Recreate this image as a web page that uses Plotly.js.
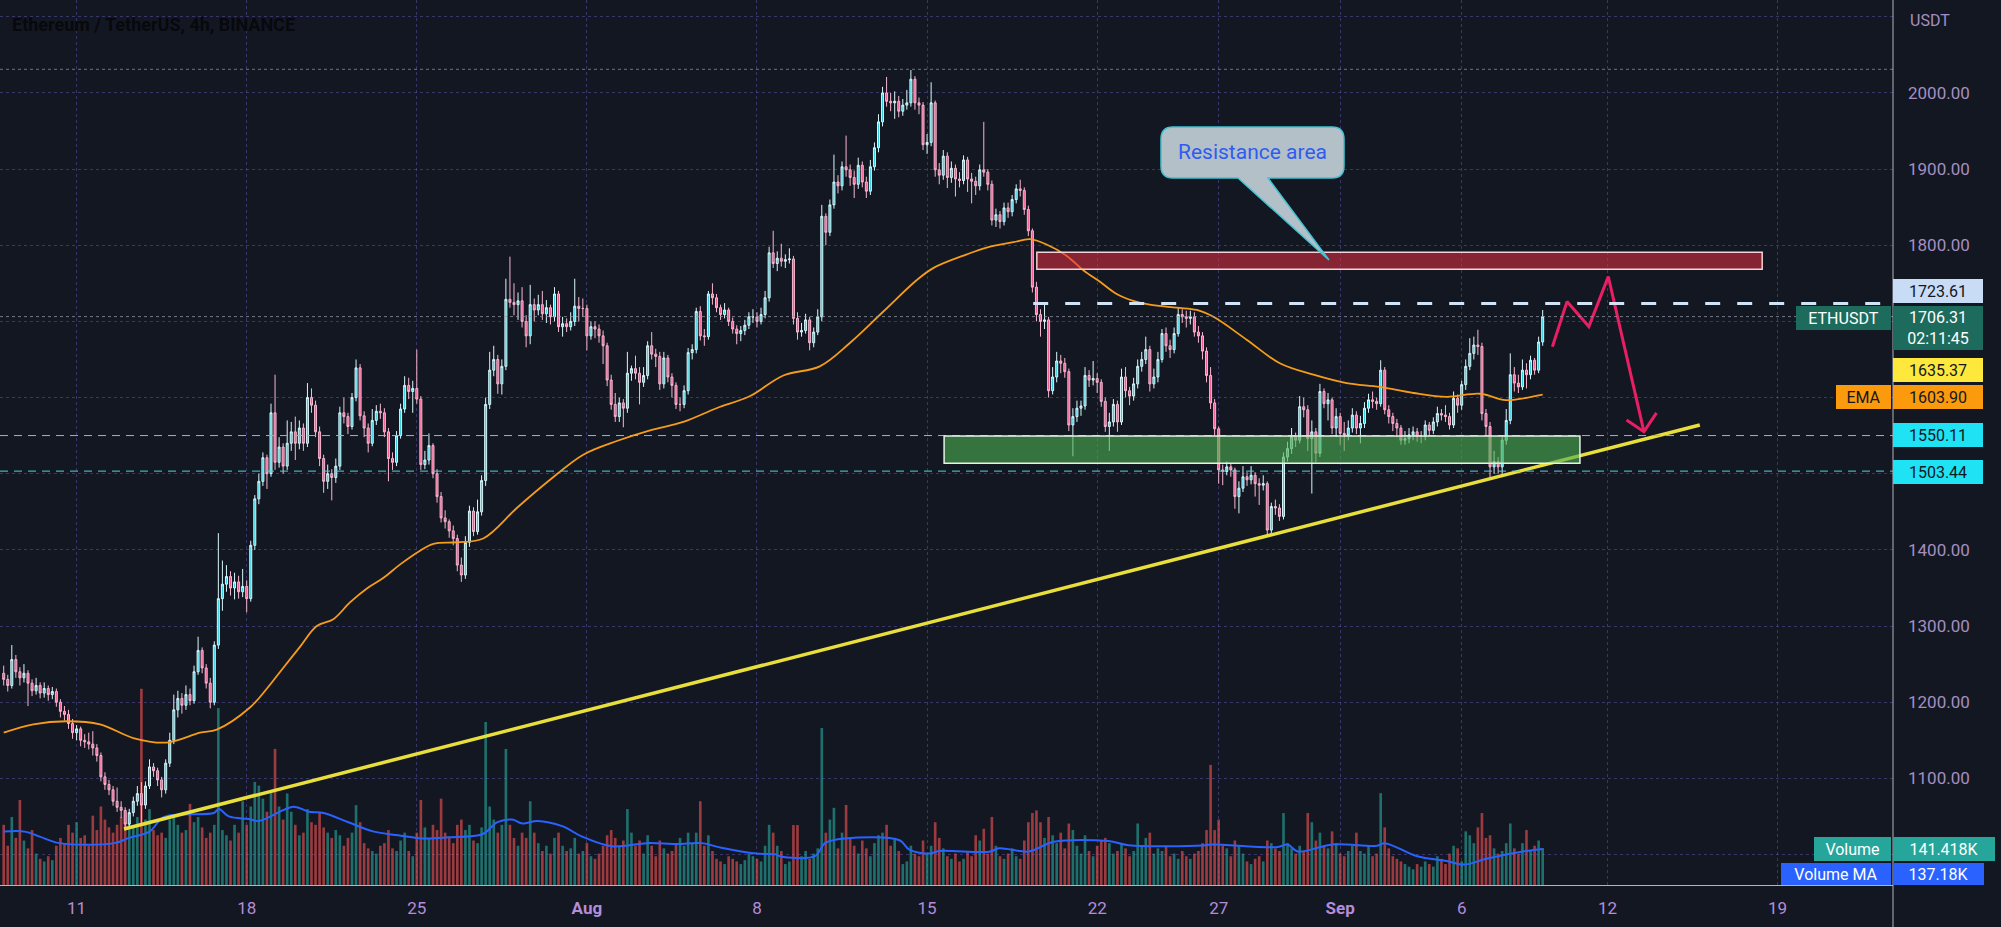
<!DOCTYPE html>
<html><head><meta charset="utf-8">
<script src="https://cdn.plot.ly/plotly-3.0.1.min.js"></script>
<style>html,body{margin:0;padding:0;background:#131722;}#chart{width:2001px;height:927px;}</style>
</head><body><div id="chart"></div>
<script>
// ---- data: ETH/USDT 4h candles, first bar 2022-07-08 00:00 UTC ----
const startUTC = Date.UTC(2022, 6, 8, 0, 0);
const H4 = 4 * 3600 * 1000;

const open = [
1238,1230,1222,1256,1240,1232,1238,1225,1215,1222,1212,1218,1210,1214,1200,1188,1184,1172,1160,1165,
1150,1148,1145,1140,1130,1102,1092,1085,1070,1062,1058,1040,1055,1070,1080,1065,1090,1115,1110,1098,
1085,1120,1150,1190,1205,1196,1210,1202,1240,1268,1245,1225,1200,1275,1336,1355,1365,1350,1358,1345,
1352,1336,1406,1467,1490,1521,1500,1580,1515,1535,1510,1540,1555,1540,1560,1540,1600,1590,1555,1520,
1490,1500,1495,1510,1580,1575,1562,1600,1639,1576,1560,1540,1570,1582,1580,1555,1520,1515,1550,1585,
1616,1608,1612,1598,1512,1518,1537,1500,1470,1442,1437,1425,1415,1380,1367,1410,1451,1424,1450,1491,
1591,1636,1650,1618,1641,1729,1725,1722,1727,1700,1681,1722,1715,1722,1710,1718,1706,1736,1693,1697,
1693,1700,1720,1717,1717,1681,1693,1690,1681,1668,1623,1591,1575,1593,1586,1632,1638,1632,1620,1629,
1668,1657,1654,1618,1652,1627,1616,1591,1591,1609,1659,1663,1713,1681,1680,1736,1731,1718,1709,1715,
1700,1690,1684,1688,1695,1706,1706,1700,1709,1731,1790,1776,1783,1779,1781,1782,1704,1686,1688,1702,
1672,1686,1706,1838,1817,1853,1883,1878,1903,1899,1889,1880,1905,1883,1871,1903,1928,1962,2000,1989,
1987,1989,1976,1984,1987,2018,1987,1984,1932,1935,1987,1899,1892,1917,1889,1901,1887,1885,1912,1887,
1884,1878,1899,1896,1880,1833,1840,1831,1849,1844,1860,1874,1872,1847,1819,1745,1709,1700,1702,1609,
1627,1648,1645,1634,1564,1575,1586,1589,1629,1623,1625,1620,1595,1562,1568,1591,1568,1627,1609,1602,
1618,1641,1650,1663,1618,1627,1650,1684,1668,1663,1684,1709,1706,1704,1706,1686,1681,1661,1629,1593,
1559,1505,1503,1509,1505,1470,1481,1496,1492,1498,1487,1485,1487,1426,1457,1455,1444,1522,1533,1549,
1544,1588,1584,1546,1555,1527,1608,1592,1597,1560,1575,1553,1551,1560,1577,1560,1566,1586,1597,1595,
1592,1636,1584,1575,1566,1560,1544,1546,1551,1555,1549,1549,1564,1557,1568,1579,1577,1575,1564,1599,
1590,1617,1641,1658,1669,1667,1579,1562,1509,1516,1509,1544,1570,1630,1619,1614,1636,1630,1649,1636,1673];

const high = [
1248,1236,1275,1262,1246,1250,1242,1230,1232,1226,1226,1222,1220,1218,1204,1195,1190,1178,1170,1168,
1158,1160,1162,1145,1134,1108,1098,1090,1088,1070,1062,1060,1076,1090,1095,1096,1125,1120,1114,1102,
1125,1160,1210,1215,1212,1222,1218,1248,1286,1272,1250,1232,1280,1422,1386,1380,1372,1370,1366,1375,
1360,1412,1472,1500,1528,1525,1592,1630,1548,1540,1570,1568,1575,1570,1566,1619,1612,1596,1562,1525,
1512,1506,1520,1588,1600,1580,1606,1650,1644,1582,1566,1585,1590,1592,1586,1560,1528,1556,1592,1628,
1626,1622,1663,1602,1530,1553,1540,1506,1476,1452,1440,1432,1420,1390,1418,1458,1456,1466,1498,1600,
1660,1668,1656,1650,1756,1785,1750,1738,1745,1708,1748,1730,1735,1740,1728,1722,1745,1740,1706,1704,
1712,1756,1732,1730,1722,1700,1700,1696,1688,1672,1630,1606,1600,1598,1660,1642,1655,1640,1640,1674,
1686,1664,1660,1660,1656,1632,1620,1600,1616,1665,1670,1718,1720,1690,1740,1750,1736,1722,1724,1718,
1705,1695,1694,1702,1712,1716,1712,1718,1740,1798,1819,1792,1802,1788,1796,1786,1712,1698,1710,1706,
1692,1716,1853,1842,1860,1919,1892,1910,1944,1906,1898,1915,1910,1890,1912,1935,1972,2008,2021,2000,
2002,1996,1992,2004,2030,2022,1994,1988,1946,2014,1990,1908,1925,1922,1910,1906,1896,1918,1916,1895,
1890,1906,1962,1900,1885,1848,1845,1856,1856,1866,1880,1886,1876,1852,1822,1752,1716,1723,1706,1640,
1660,1656,1652,1638,1586,1596,1596,1640,1636,1648,1632,1624,1600,1580,1598,1596,1638,1640,1614,1626,
1650,1660,1680,1668,1638,1660,1690,1692,1676,1692,1718,1716,1714,1714,1712,1694,1686,1666,1640,1598,
1562,1512,1516,1514,1508,1490,1510,1502,1510,1502,1494,1498,1490,1462,1466,1460,1528,1542,1560,1554,
1602,1600,1590,1570,1560,1618,1612,1606,1600,1586,1580,1568,1570,1586,1582,1576,1594,1605,1608,1600,
1649,1640,1590,1580,1572,1564,1556,1560,1562,1560,1556,1570,1568,1574,1588,1585,1590,1580,1608,1604,
1622,1650,1678,1680,1689,1672,1585,1568,1530,1522,1550,1585,1658,1640,1630,1650,1645,1655,1652,1680,1715];

const low = [
1222,1214,1218,1232,1222,1226,1195,1208,1210,1205,1206,1202,1204,1194,1180,1176,1165,1152,1150,1142,
1140,1138,1130,1122,1096,1085,1078,1064,1056,1048,1032,1036,1050,1064,1038,1060,1086,1102,1090,1075,
1080,1115,1145,1180,1185,1190,1196,1198,1236,1238,1218,1192,1196,1270,1320,1345,1340,1335,1336,1338,
1318,1332,1400,1460,1484,1480,1496,1505,1508,1500,1505,1530,1518,1532,1530,1535,1580,1548,1510,1475,
1480,1465,1488,1505,1566,1552,1558,1595,1570,1548,1528,1536,1564,1572,1548,1490,1505,1510,1546,1580,
1598,1580,1592,1505,1506,1512,1494,1462,1436,1428,1416,1406,1372,1358,1362,1404,1418,1420,1445,1484,
1585,1628,1605,1604,1636,1718,1708,1702,1692,1666,1670,1700,1708,1702,1698,1696,1700,1686,1680,1686,
1688,1694,1700,1706,1662,1676,1678,1672,1644,1615,1584,1568,1568,1561,1580,1622,1624,1591,1614,1624,
1650,1640,1610,1612,1620,1600,1585,1582,1586,1604,1650,1658,1675,1668,1676,1722,1712,1702,1704,1694,
1684,1670,1674,1682,1690,1698,1692,1696,1704,1726,1770,1766,1772,1770,1776,1696,1676,1680,1684,1662,
1666,1682,1700,1800,1812,1848,1868,1872,1890,1878,1862,1874,1876,1862,1866,1898,1922,1956,1982,1976,
1966,1968,1970,1978,1982,1978,1972,1925,1920,1930,1890,1880,1886,1875,1882,1864,1876,1880,1870,1855,
1866,1872,1890,1872,1826,1824,1822,1826,1836,1838,1855,1864,1840,1812,1738,1700,1680,1690,1600,1604,
1620,1632,1626,1556,1523,1568,1576,1584,1614,1616,1606,1588,1555,1530,1562,1555,1564,1600,1590,1596,
1612,1634,1644,1608,1612,1620,1646,1660,1652,1658,1680,1698,1692,1696,1680,1672,1650,1620,1585,1550,
1487,1485,1498,1496,1454,1448,1476,1484,1486,1470,1459,1478,1420,1422,1446,1438,1440,1516,1526,1535,
1540,1574,1530,1474,1515,1522,1586,1570,1552,1548,1538,1530,1544,1554,1552,1540,1560,1580,1586,1584,
1588,1578,1566,1556,1548,1538,1538,1540,1544,1542,1540,1544,1550,1552,1562,1570,1568,1558,1560,1580,
1584,1610,1636,1650,1656,1570,1550,1494,1500,1500,1500,1538,1565,1608,1606,1610,1612,1624,1630,1632,1668];

const close = [
1230,1222,1256,1240,1232,1238,1225,1215,1222,1212,1218,1210,1214,1200,1188,1184,1172,1160,1165,1150,
1148,1145,1140,1130,1102,1092,1085,1070,1062,1058,1040,1055,1070,1080,1065,1090,1115,1110,1098,1085,
1120,1150,1190,1205,1196,1210,1202,1240,1268,1245,1225,1200,1275,1336,1355,1365,1350,1358,1345,1352,
1336,1406,1467,1490,1521,1500,1580,1515,1535,1510,1540,1555,1540,1560,1540,1600,1590,1555,1520,1490,
1500,1495,1510,1580,1575,1562,1600,1639,1576,1560,1540,1570,1582,1580,1555,1520,1515,1550,1585,1616,
1608,1612,1598,1512,1518,1537,1500,1470,1442,1437,1425,1415,1380,1367,1410,1451,1424,1450,1491,1591,
1636,1650,1618,1641,1729,1725,1722,1727,1700,1681,1722,1715,1722,1710,1718,1706,1736,1693,1697,1693,
1700,1720,1717,1717,1681,1693,1690,1681,1668,1623,1591,1575,1593,1586,1632,1638,1632,1620,1629,1668,
1657,1654,1618,1652,1627,1616,1591,1591,1609,1659,1663,1713,1681,1680,1736,1731,1718,1709,1715,1700,
1690,1684,1688,1695,1706,1706,1700,1709,1731,1790,1776,1783,1779,1781,1782,1704,1686,1688,1702,1672,
1686,1706,1838,1817,1853,1883,1878,1903,1899,1889,1880,1905,1883,1871,1903,1928,1962,2000,1989,1987,
1989,1976,1984,1987,2018,1987,1984,1932,1935,1987,1899,1892,1917,1889,1901,1887,1885,1912,1887,1884,
1878,1899,1896,1880,1833,1840,1831,1849,1844,1860,1874,1872,1847,1819,1745,1709,1700,1702,1609,1627,
1648,1645,1634,1564,1575,1586,1589,1629,1623,1625,1620,1595,1562,1568,1591,1568,1627,1609,1602,1618,
1641,1650,1663,1618,1627,1650,1684,1668,1663,1684,1709,1706,1704,1706,1686,1681,1661,1629,1593,1559,
1505,1503,1509,1505,1470,1481,1496,1492,1498,1487,1485,1487,1426,1457,1455,1444,1522,1533,1549,1544,
1588,1584,1546,1555,1527,1608,1592,1597,1560,1575,1553,1551,1560,1577,1560,1566,1586,1597,1595,1592,
1636,1584,1575,1566,1560,1544,1546,1551,1555,1549,1549,1564,1557,1568,1579,1577,1575,1564,1599,1590,
1617,1641,1658,1669,1667,1579,1562,1509,1516,1509,1544,1570,1630,1619,1614,1636,1630,1649,1636,1673,1706.31];

// volume in thousands of ETH
const volumeK = [
230,150,260,180,325,170,140,210,120,100,90,110,95,150,180,160,230,200,240,180,
190,150,265,210,300,250,220,200,230,260,280,240,220,260,750,250,290,210,190,200,
180,250,260,230,200,210,310,240,260,220,180,200,230,676,210,190,170,230,200,320,
230,300,394,380,330,280,360,520,300,250,350,280,230,190,200,290,240,230,280,220,
200,180,210,190,150,180,200,305,240,160,140,130,120,150,160,210,140,130,170,200,
130,110,200,325,220,180,230,210,330,200,180,160,230,250,210,230,170,160,220,623,
300,250,200,230,520,230,180,150,200,180,320,200,160,130,150,120,180,200,150,130,
140,180,120,130,160,110,100,120,150,190,210,180,150,170,290,200,150,170,120,190,
150,110,170,140,120,130,160,180,150,200,160,200,320,150,190,130,100,90,80,110,
100,90,80,95,120,110,100,90,150,230,200,150,130,80,90,229,229,110,130,100,
120,140,600,200,250,295,140,200,306,180,150,120,170,140,110,160,190,200,230,150,
180,130,80,90,150,120,110,170,120,150,240,180,140,110,100,120,90,100,130,110,
190,170,215,120,260,150,110,100,120,140,110,100,170,240,275,285,240,180,260,190,
160,200,140,235,210,150,120,190,130,110,150,170,180,160,120,130,160,140,110,130,
235,150,180,200,120,140,130,150,110,120,100,130,110,100,120,130,160,210,459,210,
250,150,140,110,170,150,120,90,80,100,110,90,170,160,140,130,275,160,140,120,
150,130,275,240,170,200,150,140,205,160,120,110,130,150,200,130,120,150,110,120,
351,220,140,110,100,90,80,70,60,80,70,90,80,70,110,100,80,120,150,140,
90,205,190,160,220,275,180,190,140,120,130,160,235,140,120,160,210,130,150,170,141.418];

// EMA, at bar-index positions
const emaIdx = [0,7.3,15.6,23.8,32,40.2,48.5,52.6,60.8,65,69,73.2,77.3,81.4,85.5,89.6,93.7,97.9,102.8,106.1,
111.9,118.4,126.7,134.9,143.1,151.4,159.6,167.8,176,184.3,192.5,201.5,209,217.2,225.4,229.5,237.8,242.7,249.3,253.4,
257.5,262.5,266.6,270.7,274.8,278.9,283,289.6,294.6,298.7,306.9,315.1,323.4,331.6,339.8,348.1,356.3,364.5,370.3,372.7,380];
const emaVal = [1160,1171,1175,1171,1153,1147,1160,1164,1193,1218,1245,1273,1300,1309,1331,1349,1363,1381,1399,1408,
1410,1415,1455,1492,1525,1543,1557,1568,1586,1602,1629,1641,1672,1713,1754,1770,1788,1797,1804,1808,
1801,1786,1767,1752,1736,1727,1722,1718,1715,1706,1676,1645,1630,1619,1614,1606,1601,1605,1597,1597,1603.9];

// Volume MA (thousands)
const vmaIdx = [0,5.2,8.9,13.8,27.3,31,36,39.6,51.9,53.1,55.6,60.5,63,71.6,75.3,79,85.1,91.2,97.4,103.5,
109.7,118.3,121.9,125.6,128.1,131.8,137.9,142.8,150.2,158.8,166.2,172.3,177.2,185.8,190.7,191.7,200.3,202.8,207.7,221.2,
223.6,228.6,231,243.3,245.8,253.1,259.3,272.8,277.7,296.1,298.1,314.6,317,319.5,328.1,339.1,341,349,356.3,360.6,366.1,376,380];
const vmaVal = [204,204,185,160,160,180,204,260,275,290,262,252,245,299,280,275,240,205,190,178,
182,195,240,250,235,245,225,185,148,160,157,160,142,120,117,110,110,160,178,171,
135,120,130,127,140,128,165,168,152,151,155,145,155,128,155,150,160,110,92,78,100,130,137.18];

// axis ticks
const dateTicks = ['2022-07-11','2022-07-18','2022-07-25','2022-08-01','2022-08-08','2022-08-15','2022-08-22','2022-08-27','2022-09-01','2022-09-06','2022-09-12','2022-09-19'];
const dateTickText = ['11','18','25','<b>Aug</b>','8','15','22','27','<b>Sep</b>','6','12','19'];
const priceTicks = [1000,1100,1200,1300,1400,1500,1600,1700,1800,1900,2000,2100];
// price labels shown on the scale (the others are covered by the label boxes)
const priceTickShown = [1100,1200,1300,1400,1800,1900,2000];

// drawings (bar index / price)
const trendIdx = [29.7, 418.8], trendPrice = [1033.5, 1564];
const pathIdx = [382.4, 386, 391.4, 396.2, 405], pathPrice = [1666.8, 1726, 1693.2, 1758.8, 1555.2];
const arrowIdx = [400.7, 405, 408.1], arrowPrice = [1570.6, 1555.2, 1579.8];
const resistIdx = [255.1, 434.2], resistPrice = [1768.5, 1790.8];
const supportIdx = [232.2, 389.2], supportPrice = [1513.7, 1549.6];
const levels = {high: 1723.61, last: 1706.31, alert: 1635.37, ema: 1603.90, sup1: 1550.11, sup2: 1503.44, top: 2031};

// ---- build ----
const T = k => startUTC + k * H4;
const xs = close.map((_, i) => T(i));
const volColors = close.map((c, i) => c >= open[i] ? 'rgba(38,166,154,0.62)' : 'rgba(239,83,80,0.62)');

const PH = 885, PW = 1893;
const py = px => 1 - px / PH;
const pxX = px => px / PW;

const traces = [
  {type:'bar', x: xs, y: volumeK, marker:{color: volColors, line:{width:0}}, xaxis:'x', yaxis:'y', hoverinfo:'skip'},
  {type:'scatter', mode:'lines', x: vmaIdx.map(T), y: vmaVal, line:{color:'#2962ff', width:2, shape:'spline'}, xaxis:'x', yaxis:'y', hoverinfo:'skip'},
  {type:'candlestick', x: xs, open, high, low, close, xaxis:'x', yaxis:'y2',
    increasing:{line:{color:'#d8f6fa', width:1}, fillcolor:'#2ccbdc'},
    decreasing:{line:{color:'#f7b6cf', width:1}, fillcolor:'#ee5a8f'},
    whiskerwidth: 0, hoverinfo:'skip'},
  {type:'scatter', mode:'lines', x: emaIdx.map(T), y: emaVal, line:{color:'#f59c1a', width:1.8, shape:'spline'}, xaxis:'x', yaxis:'y2', hoverinfo:'skip'},
  {type:'scatter', mode:'lines', x: trendIdx.map(T), y: trendPrice, line:{color:'#e9df3c', width:3.5}, xaxis:'x', yaxis:'y2', hoverinfo:'skip'},
  {type:'scatter', mode:'lines', x: pathIdx.map(T), y: pathPrice, line:{color:'#e91e63', width:3}, xaxis:'x', yaxis:'y2', hoverinfo:'skip'},
  {type:'scatter', mode:'lines', x: arrowIdx.map(T), y: arrowPrice, line:{color:'#e91e63', width:3}, xaxis:'x', yaxis:'y2', hoverinfo:'skip'}
];

const gridColor = 'rgba(110,100,200,0.42)';
const shapes = [
  {type:'line', xref:'paper', yref:'y2', x0:0, x1:1, y0:levels.top, y1:levels.top, line:{color:'rgba(190,190,215,0.55)', width:1, dash:'dot'}},
  {type:'line', xref:'paper', yref:'y2', x0:0, x1:1, y0:levels.last, y1:levels.last, line:{color:'rgba(150,152,165,0.75)', width:1, dash:'dot'}},
  {type:'line', xref:'paper', yref:'y2', x0:0, x1:1, y0:levels.sup1, y1:levels.sup1, line:{color:'#4fd3e3', width:1, dash:'8px,6px'}},
  {type:'line', xref:'paper', yref:'y2', x0:0, x1:1, y0:levels.sup2, y1:levels.sup2, line:{color:'#4fd3e3', width:1, dash:'8px,6px'}},
  {type:'line', xref:'x', yref:'y2', x0:T(254.2), x1:T(466.5), y0:levels.high, y1:levels.high, line:{color:'#d3e3f7', width:3, dash:'15px,17px'}},
  {type:'rect', xref:'x', yref:'y2', x0:T(resistIdx[0]), x1:T(resistIdx[1]), y0:resistPrice[0], y1:resistPrice[1],
    fillcolor:'rgba(232,48,66,0.55)', line:{color:'#f4d2d6', width:1.5}, layer:'above'},
  {type:'rect', xref:'x', yref:'y2', x0:T(supportIdx[0]), x1:T(supportIdx[1]), y0:supportPrice[0], y1:supportPrice[1],
    fillcolor:'rgba(76,175,80,0.62)', line:{color:'#e6f2e6', width:1.5}, layer:'above'},
  (function(){
    const x0=1161,x1=1344,y0=127,y1=178,r=12;
    const P=(x,y)=>pxX(x).toFixed(5)+','+py(y).toFixed(5);
    const path = 'M'+P(x0+r,y0)+' L'+P(x1-r,y0)+' Q'+P(x1,y0)+' '+P(x1,y0+r)+' L'+P(x1,y1-r)+' Q'+P(x1,y1)+' '+P(x1-r,y1)+
      ' L'+P(1268,y1)+' L'+P(1329,260)+' L'+P(1238,y1)+' L'+P(x0+r,y1)+' Q'+P(x0,y1)+' '+P(x0,y1-r)+' L'+P(x0,y0+r)+' Q'+P(x0,y0)+' '+P(x0+r,y0)+' Z';
    return {type:'path', xref:'paper', yref:'paper', path, fillcolor:'#b3c0c8', line:{color:'#43c3d3', width:1.5}, layer:'above'};
  })(),
  {type:'line', xref:'paper', yref:'paper', x0:1, x1:1, y0:-42/PH, y1:1, line:{color:'#b2b5be', width:1}}
];

function axLabel(text, cy, h, w, bg, fc, left){
  return {xref:'paper', yref:'paper', x:1, y:py(cy), xanchor: left ? 'right':'left', yanchor:'middle', xshift: left ? -2 : 0,
    text, showarrow:false, bgcolor:bg, width:w, height:h, borderpad:0, borderwidth:0,
    font:{family:'Roboto, sans-serif', size:16, color:fc}, align:'center', valign:'middle'};
}

const annotations = [
  {xref:'paper', yref:'paper', x:pxX(10), y:py(24), xanchor:'left', yanchor:'middle', showarrow:false,
   text:'<b>Ethereum / TetherUS, 4h, BINANCE</b>', font:{family:'Roboto, sans-serif', size:18, color:'#07090d'}},
  {xref:'paper', yref:'paper', x:1, xshift:15, y:py(21), xanchor:'left', yanchor:'middle', showarrow:false,
   text:'USDT', font:{family:'Roboto, sans-serif', size:16, color:'#a48fc0'}},
  {xref:'paper', yref:'paper', x:pxX(1252), y:py(152), xanchor:'center', yanchor:'middle', showarrow:false,
   text:'Resistance area', font:{family:'Roboto, sans-serif', size:21, color:'#2f5cf0'}},
  axLabel(levels.high.toFixed(2), 290.5, 24, 90, '#c9dcf6', '#131722'),
  axLabel(levels.last.toFixed(2)+'<br>02:11:45', 327.5, 44, 90, '#1d6b5c', '#ffffff'),
  axLabel('ETHUSDT', 318, 24, 95, '#1d6b5c', '#ffffff', true),
  axLabel(levels.alert.toFixed(2), 370, 24, 90, '#fee83c', '#131722'),
  axLabel(levels.ema.toFixed(2), 396.5, 24, 90, '#fb9a0c', '#131722'),
  axLabel('EMA', 396.5, 24, 55, '#fb9a0c', '#131722', true),
  axLabel(levels.sup1.toFixed(2), 435.2, 24, 90, '#1fe3f5', '#131722'),
  axLabel(levels.sup2.toFixed(2), 471.9, 24, 90, '#1fe3f5', '#131722'),
  axLabel('141.418K', 848.5, 24, 102, '#26a69a', '#ffffff'),
  axLabel('Volume', 848.5, 24, 77, '#26a69a', '#ffffff', true),
  axLabel('137.18K', 873.5, 22, 91, '#2962ff', '#ffffff'),
  axLabel('Volume MA', 873.5, 22, 110, '#2962ff', '#ffffff', true)
];

const layout = {
  width: 2001, height: 927,
  margin: {l:0, r:108, t:0, b:42, pad:0},
  paper_bgcolor: '#131722', plot_bgcolor: '#131722',
  showlegend: false, bargap: 0.35, hovermode: false,
  font: {family:'Roboto, sans-serif', color:'#a48fc0', size:16},
  xaxis: {type:'date', range:[T(-0.9136), T(466.5)], rangeslider:{visible:false},
    tickmode:'array', tickvals: dateTicks, ticktext: dateTickText, ticks:'',
    showgrid:true, gridcolor:gridColor, griddash:'dot', gridwidth:1,
    showline:true, linecolor:'#b2b5be', linewidth:1, zeroline:false, fixedrange:true,
    tickfont:{size:17, color:'#b58cd8'}, ticklabelstandoff: 8},
  yaxis: {range:[0, 3382], visible:false, fixedrange:true, showgrid:false, zeroline:false},
  yaxis2: {overlaying:'y', side:'right', range:[960, 2122], tickmode:'array', tickvals: priceTicks,
    ticktext: priceTicks.map(v => priceTickShown.includes(v) ? v.toFixed(2) : ''),
    showgrid:true, gridcolor:gridColor, griddash:'dot', gridwidth:1, ticks:'', zeroline:false,
    showline:false, fixedrange:true, tickfont:{size:17, color:'#a48fc0'}, ticklabelstandoff: 14},
  shapes, annotations
};

Plotly.newPlot('chart', traces, layout, {displayModeBar:false, staticPlot:true});
</script>
</body></html>
